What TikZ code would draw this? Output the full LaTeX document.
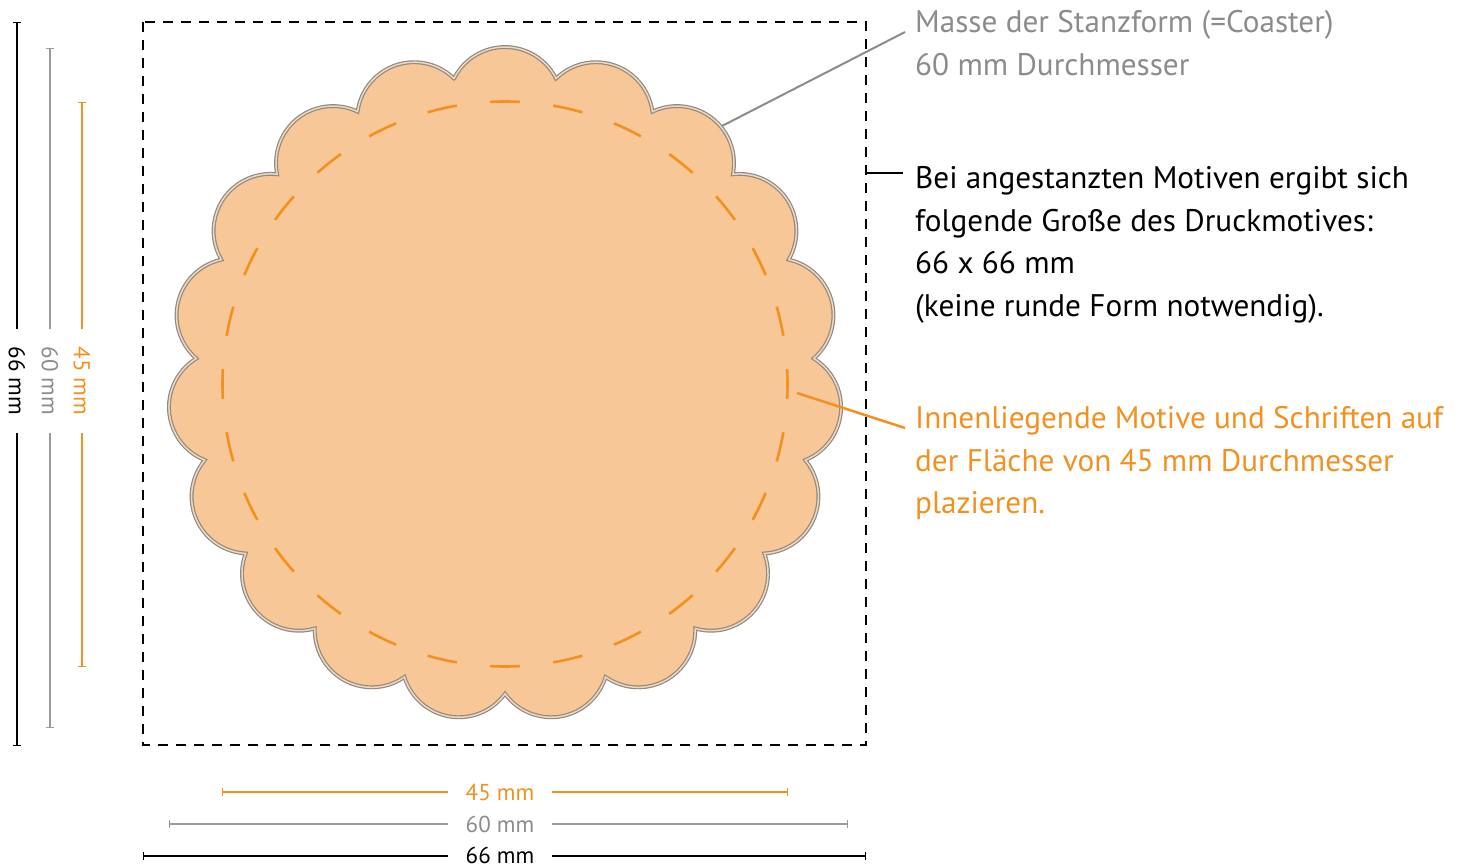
\documentclass[tikz,border=0pt]{standalone}
\usepackage{fontspec}
\setmainfont{PT Sans}
\usetikzlibrary{arrows.meta}
\definecolor{corange}{HTML}{F29120}
\definecolor{cgray}{HTML}{8C8C8C}
\definecolor{cgrayline}{HTML}{9B9B9B}
\definecolor{cfill}{HTML}{F7C797}
\definecolor{cedge}{HTML}{8A8A8A}
\definecolor{cedgein}{HTML}{F8D6B4}
\begin{document}
\begin{tikzpicture}[x=1pt,y=-1pt,
  maintext/.style={anchor=base west, inner sep=0pt, font=\fontsize{31.2}{38}\selectfont},
  dimlabel/.style={font=\fontsize{23}{27}\selectfont, inner ysep=0pt, inner xsep=18pt},
  dimstart/.style={line width=1.3pt, {Bar[width=8pt,length=1.3pt]}-},
  dimend/.style={line width=1.3pt, -{Bar[width=8pt,length=1.3pt]}},
  scallop/.style={fill=cfill, draw=cedge, line width=1.2pt, double=cedgein, double distance=1.5pt},
  innerdash/.style={corange, line width=2.6pt},
  leader/.style={line width=2pt}
]
\useasboundingbox (0,0) rectangle (1460,867);

% outer dashed square (66 mm print area)
\draw[line width=2.9pt, dash pattern=on 10pt off 8pt] (143,22) rectangle (866,745);

% scalloped coaster (60 mm)
\begin{scope}[shift={(505,384)}]
  \draw[scallop] (-90-180/19:309.71)
    \foreach \k [evaluate=\k as \t using -90+\k*360/19] in {0,...,18} {
      arc[start angle=\t-63.44, end angle=\t+63.44, radius=57]
    } -- cycle;
  % inner dashed circle (45 mm)
  \foreach \k in {0,...,27} {
    \draw[innerdash] (\k*360/28-3.04:282.5) arc[start angle=\k*360/28-3.04, end angle=\k*360/28+3.04, radius=282.5];
  }
\end{scope}

% texts
\node[maintext, text=cgray] (g1) at (915,33) {Masse der Stanzform (=Coaster)};
\node[maintext, text=cgray] (g2) at (915,76) {60 mm Durchmesser};
\node[maintext] (b1) at (915,188) {Bei angestanzten Motiven ergibt sich};
\node[maintext] (b2) at (915,231) {folgende Große des Druckmotives:};
\node[maintext] (b3) at (915,273) {66 x 66 mm};
\node[maintext] (b4) at (915,316) {(keine runde Form notwendig).};
\node[maintext, text=corange] (o1) at (915,428) {Innenliegende Motive und Schriften auf};
\node[maintext, text=corange] (o2) at (915,471) {der Fläche von 45 mm Durchmesser};
\node[maintext, text=corange] (o3) at (915,513) {plazieren.};

% leaders
\coordinate (gA) at (722,126);
\coordinate (gB) at (905,32);
\draw[leader, cgray] (gA) -- (gB);
\coordinate (bA) at (866,173);
\coordinate (bB) at (903,173);
\draw[leader] (bA) -- (bB);
\coordinate (oA) at (797,393);
\coordinate (oB) at (905,428);
\draw[leader, corange, line width=2.5pt] (oA) -- (oB);

% left dimension lines
\node[dimlabel, rotate=-90] (lk) at (17,381) {66 mm};
\coordinate (lkT) at (17,22); \coordinate (lkB) at (17,746);
\draw[dimstart] (lkT) -- (lk.west);
\draw[dimend] (lk.east) -- (lkB);

\node[dimlabel, rotate=-90, text=cgray] (lg) at (50,381) {60 mm};
\coordinate (lgT) at (50,48); \coordinate (lgB) at (50,728);
\draw[dimstart, cgrayline] (lgT) -- (lg.west);
\draw[dimend, cgrayline] (lg.east) -- (lgB);

\node[dimlabel, rotate=-90, text=corange] (lo) at (82,381) {45 mm};
\coordinate (loT) at (82,102); \coordinate (loB) at (82,667);
\draw[dimstart, corange] (loT) -- (lo.west);
\draw[dimend, corange] (lo.east) -- (loB);

% bottom dimension lines
\node[dimlabel, text=corange] (bo) at (500,792) {45 mm};
\coordinate (boL) at (222,792); \coordinate (boR) at (788,792);
\draw[dimstart, corange] (boL) -- (bo.west);
\draw[dimend, corange] (bo.east) -- (boR);

\node[dimlabel, text=cgray] (bg) at (500,824) {60 mm};
\coordinate (bgL) at (169,824); \coordinate (bgR) at (848,824);
\draw[dimstart, cgrayline] (bgL) -- (bg.west);
\draw[dimend, cgrayline] (bg.east) -- (bgR);

\node[dimlabel] (bk) at (500,855) {66 mm};
\coordinate (bkL) at (143,856); \coordinate (bkR) at (866,856);
\draw[dimstart] (bkL) -- (bk.west |- bkL);
\draw[dimend] (bk.east |- bkR) -- (bkR);
\end{tikzpicture}
\end{document}
